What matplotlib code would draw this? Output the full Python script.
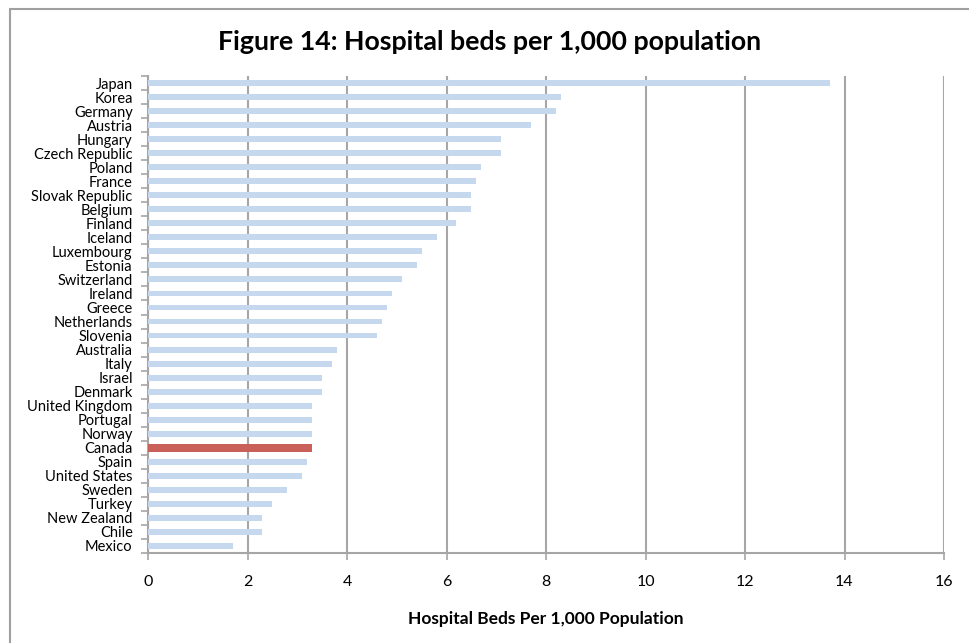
import numpy as np
import matplotlib
matplotlib.use("Agg")
import matplotlib.pyplot as plt
from matplotlib.patches import Rectangle

# ====== Data ======
countries = ["Japan", "Korea", "Germany", "Austria", "Hungary", "Czech Republic",
             "Poland", "France", "Slovak Republic", "Belgium", "Finland", "Iceland",
             "Luxembourg", "Estonia", "Switzerland", "Ireland", "Greece", "Netherlands",
             "Slovenia", "Australia", "Italy", "Israel", "Denmark", "United Kingdom",
             "Portugal", "Norway", "Canada", "Spain", "United States", "Sweden",
             "Turkey", "New Zealand", "Chile", "Mexico"]
beds = [13.7, 8.3, 8.2, 7.7, 7.1, 7.1,
        6.7, 6.6, 6.5, 6.5, 6.2, 5.8,
        5.5, 5.4, 5.1, 4.9, 4.8, 4.7,
        4.6, 3.8, 3.7, 3.5, 3.5, 3.3,
        3.3, 3.3, 3.3, 3.2, 3.1, 2.8,
        2.5, 2.3, 2.3, 1.7]
x_ticks = [0, 2, 4, 6, 8, 10, 12, 14, 16]
highlight = "Canada"
# ==================

BAR_BLUE = "#c6d8ee"
BAR_RED = "#c9605a"
GRID_GRAY = "#a6a6a6"

plt.rcParams["font.family"] = ["Lato", "DejaVu Sans"]

fig = plt.figure(figsize=(9.69, 6.43), dpi=100)
ax = fig.add_axes([148 / 969, 1 - 553 / 643, (944 - 148) / 969, (553 - 76) / 643])

y = np.arange(len(countries))
colors = [BAR_RED if c == highlight else BAR_BLUE for c in countries]
heights = [0.55 if c == highlight else 0.42 for c in countries]
ax.barh(y, beds, height=heights, color=colors, zorder=3)

ax.set_xlim(0, 16)
ax.set_ylim(len(countries) - 0.5, -0.5)

# gridlines and axes styling
ax.set_xticks(x_ticks)
ax.set_xticklabels([str(t) for t in x_ticks], fontsize=11.5)
ax.grid(axis="x", color=GRID_GRAY, linewidth=1.5, zorder=1)
ax.tick_params(axis="x", direction="out", length=5, width=1.2, color=GRID_GRAY, pad=11)

ax.set_yticks(y)
ax.set_yticklabels(countries, fontsize=10.5)
ax.set_yticks(np.arange(-0.5, len(countries)), minor=True)
ax.tick_params(axis="y", which="major", length=0, pad=11)
ax.tick_params(axis="y", which="minor", direction="out", length=5, width=1.2, color=GRID_GRAY)

for side in ["top", "right"]:
    ax.spines[side].set_visible(False)
for side in ["left", "bottom"]:
    ax.spines[side].set_color(GRID_GRAY)
    ax.spines[side].set_linewidth(1.5)

ax.set_xlabel("Hospital Beds Per 1,000 Population", fontsize=12.5, fontweight="bold", labelpad=16)

fig.text(490 / 969, 1 - 42 / 643, "Figure 14: Hospital beds per 1,000 population",
         ha="center", va="center", fontsize=19.3, fontweight="bold")

# outer chart frame
fig.patches.append(Rectangle((10 / 969, -0.2), 1.5, 1 - 9 / 643 + 0.2,
                             transform=fig.transFigure, fill=False,
                             edgecolor="#a0a0a0", linewidth=1.5))

fig.savefig("out.png", dpi=100)
